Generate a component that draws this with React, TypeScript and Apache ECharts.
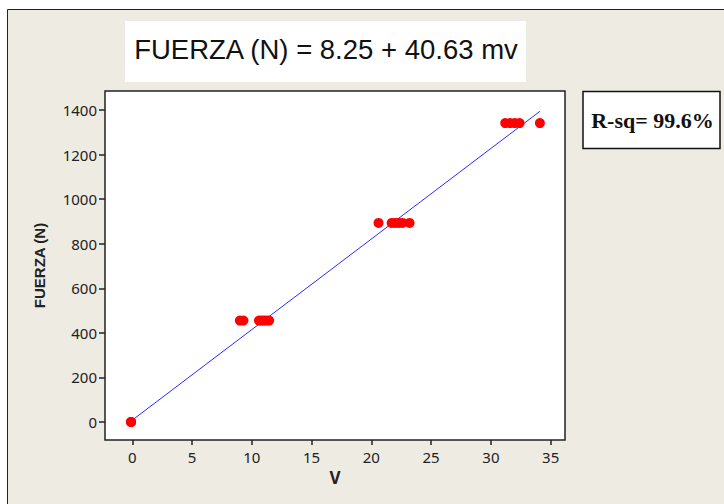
import React, { useEffect, useRef } from "react";
import * as echarts from "echarts";

// Measured force (N) against sensor reading (mV)
const voltage: number[] = [
  -0.1, -0.1, -0.1,
  9.0, 9.3, 10.6, 10.8, 11.0, 11.2, 11.45,
  20.6, 21.7, 22.0, 22.3, 22.6, 23.2,
  31.2, 31.6, 32.0, 32.4, 34.1,
];
const force: number[] = [
  0, 0, 0,
  455, 455, 455, 455, 455, 455, 455,
  893, 893, 893, 893, 893, 893,
  1341, 1341, 1341, 1341, 1341,
];

// Fitted regression line
const intercept = 8.25;
const slope = 40.63;
const fitRange: number[] = [0, 34.1];

const xTicks: number[] = [0, 5, 10, 15, 20, 25, 30, 35];
const yTicks: number[] = [0, 200, 400, 600, 800, 1000, 1200, 1400];

const titleText = "FUERZA (N) = 8.25 + 40.63 mv";
const rsqText = "R-sq= 99.6%";

export default function App() {
  const ref = useRef<HTMLDivElement>(null);

  useEffect(() => {
    if (!ref.current) return;
    const chart = echarts.init(ref.current, undefined, { renderer: "svg" });
    const points = voltage.map((v, i) => [v, force[i]]);
    const fit = fitRange.map((v) => [v, intercept + slope * v]);
    const labelFont = {
      fontFamily: "Noto Sans, Open Sans, sans-serif",
      fontSize: 15,
      color: "#222",
    };

    chart.setOption({
      animation: false,
      backgroundColor: "#fff",
      graphic: [
        {
          type: "rect",
          z: -10,
          shape: { x: 7.5, y: 9.5, width: 730, height: 510 },
          style: { fill: "#eeebe2", stroke: "#222", lineWidth: 1 },
          silent: true,
        },
        {
          type: "rect",
          shape: { x: 125, y: 21, width: 401, height: 61 },
          style: { fill: "#fff" },
        },
        {
          type: "text",
          x: 326,
          y: 49,
          style: {
            text: titleText,
            fontFamily: "Liberation Sans, Arial, sans-serif",
            fontSize: 27.5,
            fill: "#111",
            align: "center",
            verticalAlign: "middle",
          },
        },
        {
          type: "rect",
          shape: { x: 583, y: 91.5, width: 137, height: 57 },
          style: { fill: "#fff", stroke: "#111", lineWidth: 1.5 },
        },
        {
          type: "text",
          x: 652.5,
          y: 120,
          style: {
            text: rsqText,
            fontFamily: "Liberation Serif, Times New Roman, serif",
            fontWeight: "bold",
            fontSize: 22,
            fill: "#111",
            align: "center",
            verticalAlign: "middle",
          },
        },
      ],
      grid: {
        left: 105,
        top: 91,
        width: 460,
        height: 349,
        show: true,
        backgroundColor: "#fff",
        borderColor: "#222",
        borderWidth: 1.5,
      },
      xAxis: {
        type: "value",
        min: -2.28,
        max: 36.2,
        name: "V",
        nameLocation: "middle",
        nameGap: 28,
        nameTextStyle: {
          fontFamily: "Noto Sans, DejaVu Sans, sans-serif",
          fontWeight: "bold",
          fontSize: 17,
          color: "#222",
        },
        splitLine: { show: false },
        axisLine: { show: false, onZero: false },
        axisTick: {
          show: true,
          length: 5,
          customValues: xTicks,
          lineStyle: { color: "#222", width: 1.5 },
        },
        axisLabel: { ...labelFont, margin: 9, customValues: xTicks },
      },
      yAxis: {
        type: "value",
        min: -80.8,
        max: 1485,
        name: "FUERZA (N)",
        nameLocation: "middle",
        nameGap: 58,
        nameTextStyle: {
          fontFamily: "Liberation Sans, Arial, sans-serif",
          fontWeight: "bold",
          fontSize: 15,
          color: "#222",
        },
        splitLine: { show: false },
        axisLine: { show: false, onZero: false },
        axisTick: {
          show: true,
          length: 6,
          customValues: yTicks,
          lineStyle: { color: "#222", width: 1.5 },
        },
        axisLabel: {
          ...labelFont,
          margin: 8,
          customValues: yTicks,
          formatter: (v: number) => String(v),
        },
      },
      series: [
        {
          type: "line",
          data: fit,
          symbol: "none",
          lineStyle: { color: "#2a2aff", width: 1 },
          silent: true,
          z: 2,
        },
        {
          type: "scatter",
          data: points,
          symbol: "circle",
          symbolSize: 10,
          itemStyle: { color: "#ff0000", opacity: 1 },
          z: 3,
        },
      ],
    });

    return () => chart.dispose();
  }, []);

  return (
    <div
      ref={ref}
      style={{ position: "fixed", left: 0, top: 0, width: 724, height: 504 }}
    />
  );
}
